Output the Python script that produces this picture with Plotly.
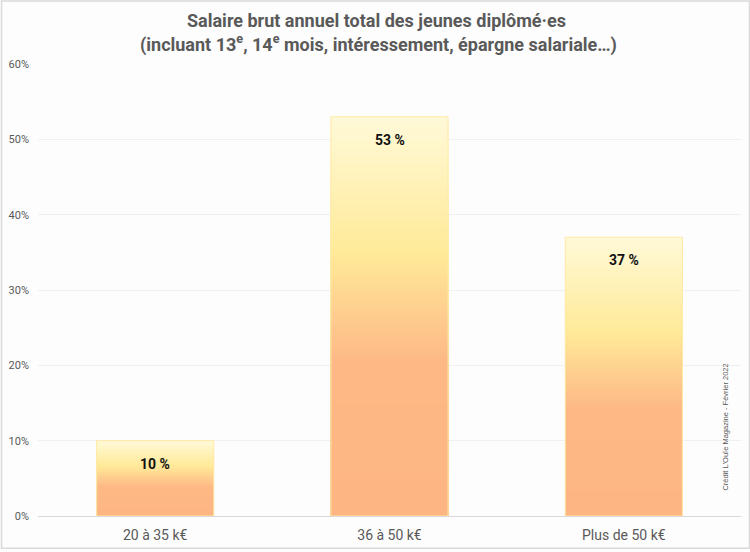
import plotly.graph_objects as go

categories = ["20 à 35 k€", "36 à 50 k€", "Plus de 50 k€"]
values = [0.10, 0.53, 0.37]
labels = ["10 %", "53 %", "37 %"]

title_line1 = "<b>Salaire brut annuel total des jeunes diplômé·es</b>"
title_line2 = "<b>(incluant 13<sup>e</sup>, 14<sup>e</sup> mois, intéressement, épargne salariale…)</b>"
credit = "Crédit L'Ouïe Magazine - Février 2022"

# gradient stops (fraction of bar height from bottom, rgb)
stops = [(0.0, (253, 182, 131)), (0.38, (253, 184, 133)), (0.5, (254, 204, 142)),
         (0.66, (255, 234, 152)), (1.0, (255, 249, 216))]


def grad(f):
    for (f0, c0), (f1, c1) in zip(stops[:-1], stops[1:]):
        if f0 <= f <= f1:
            t = (f - f0) / (f1 - f0) if f1 > f0 else 0
            return "rgb(%d,%d,%d)" % tuple(round(a + (b - a) * t) for a, b in zip(c0, c1))
    return "rgb(%d,%d,%d)" % stops[-1][1]


N = 100
fig = go.Figure()
# draw from full height (top colour) down to shortest (bottom colour): no seams
for k in range(N, 0, -1):
    f = (k - 0.5) / N
    fig.add_trace(go.Bar(
        x=categories,
        y=[v * k / N for v in values],
        marker=dict(color=grad(f), line=dict(width=0)),
        width=0.5, hoverinfo="skip", showlegend=False,
    ))
# outline
fig.add_trace(go.Bar(
    x=categories, y=values, width=0.5,
    marker=dict(color="rgba(0,0,0,0)", line=dict(color="#FFE9A6", width=1)),
    showlegend=False, hoverinfo="skip",
))

for c, v, t in zip(categories, values, labels):
    fig.add_annotation(x=c, y=v, text="<b>%s</b>" % t, showarrow=False,
                       yanchor="middle", yshift=-23,
                       font=dict(size=14, color="#111111", family="Roboto"))

H = 455.0
W = 704.0
fig.add_annotation(xref="paper", yref="paper", x=(376 - 37) / W, y=(519 - 20) / H,
                   text=title_line1, showarrow=False, yanchor="middle", xanchor="center",
                   font=dict(size=18, color="#595959", family="Roboto"))
fig.add_annotation(xref="paper", yref="paper", x=(378 - 37) / W, y=(519 - 43) / H,
                   text=title_line2, showarrow=False, yanchor="middle", xanchor="center",
                   font=dict(size=18, color="#595959", family="Roboto"))

fig.add_annotation(xref="paper", yref="paper", x=(726 - 37) / W, y=(519 - 430) / H,
                   text=credit, textangle=-90, showarrow=False,
                   xanchor="center", yanchor="middle",
                   font=dict(size=7.5, color="#595959", family="Liberation Sans"))

# outer border
fig.add_shape(type="rect", xref="paper", yref="paper",
              x0=(0.5 - 37) / W, x1=(749.5 - 37) / W,
              y0=(519 - 551.5) / H, y1=(519 - 0.5) / H,
              line=dict(color="#D9D9D9", width=1.5), fillcolor="rgba(0,0,0,0)", layer="above")

fig.update_layout(
    width=750, height=552,
    margin=dict(l=37, r=9, t=64, b=33),
    barmode="overlay", bargap=0.5,
    paper_bgcolor="#FDFDFD", plot_bgcolor="#FDFDFD",
    font=dict(family="Roboto", color="#595959"),
    xaxis=dict(showgrid=False, showline=True, linecolor="#D9D9D9", linewidth=1,
               tickfont=dict(size=14, color="#595959"), ticks="", fixedrange=True,
               ticklabelstandoff=6),
    yaxis=dict(range=[0, 0.6], dtick=0.1, tickformat=".0%", showgrid=True,
               gridcolor="#F0F0F0", gridwidth=1, zeroline=False,
               tickfont=dict(size=11, color="#595959"), ticks="", ticklen=0,
               ticklabelstandoff=8),
)

fig.write_html("out.html", config={"displayModeBar": False},
               post_script="document.body.style.margin='0';document.body.style.overflow='hidden';")
